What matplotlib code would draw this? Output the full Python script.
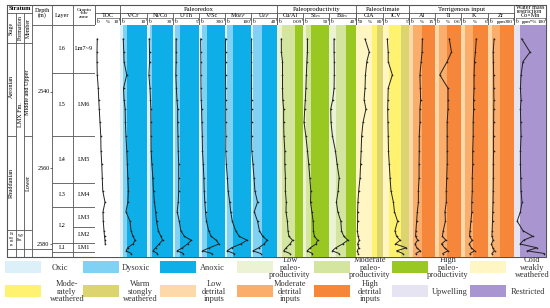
import numpy as np
import matplotlib
matplotlib.use('Agg')
import matplotlib.pyplot as plt

plt.rcParams['font.family'] = ['Liberation Serif', 'DejaVu Serif']
plt.rcParams['mathtext.fontset'] = 'stix'

# ---------------- data ----------------
depth = [2526, 2529.5, 2532, 2535.5, 2539, 2542, 2544.5, 2548, 2551.5, 2555.5, 2559, 2562.5,
         2566, 2569, 2571.5, 2574, 2576.5, 2578, 2579, 2580, 2581, 2581.8, 2582.5]
nan = np.nan
toc = [0.9, 0.8, 0.8, 0.9, 1.3, 1.5, 1.7, 2.0, 2.3, 2.4, 2.7, 2.9, 3.1, 4.0, 3.2, 3.3, 3.6, 3.8, 4.0, 4.1, nan, nan, nan]
v_cr = [1.2, 1.4, 1.5, 2.5, 1.3, 1.5, 1.9, 2.0, 2.2, 2.5, 2.7, 2.9, 3.1, 2.9, 2.2, 3.7, 4.1, 4.8, 5.6, 4.8, 2.8, 2.3, 4.2]
ni_co = [2.6, 2.9, 3.0, 2.2, 3.4, 4.0, 4.5, 4.6, 4.7, 4.8, 5.6, 6.7, 7.5, 8.6, 10, 11, 13, 16, 18, 14, 10, 7, 12]
u_th = [0.6, 0.6, 0.6, 0.55, 0.65, 0.75, 0.9, 0.9, 0.95, 1.0, 1.1, 1.1, 1.1, 1.0, 0.8, 1.2, 1.5, 2.2, 3.5, 2.8, 1.8, 0.8, 2.0]
v_sc = [19, 21, 22, 22, 23, 25, 30, 33, 37, 40, 49, 56, 60, 67, 75, 86, 112, 140, 200, 230, 120, 40, 150]
mo_ef = [2, 2, 2, 2, 2.5, 2.5, 3, 3, 3.5, 3, 5, 9, 12, 18, 22, 28, 41, 55, 85, 60, 25, 8, 35]
u_ef = [0.5, 0.5, 0.5, 0.6, 0.7, 0.8, 1, 1, 1, 1.2, 3, 4.6, 6, 10, 5, 10, 13, 18, 25, 20, 12, 3, 15]
cu_al = [0.015, 0.015, 0.019, 0.019, 0.019, 0.020, 0.023, 0.023, 0.024, 0.027, 0.027, 0.029, 0.029,
         0.032, 0.031, 0.036, 0.038, 0.041, 0.054, 0.045, 0.032, 0.023, 0.045]
si_ex = [8.6, 8.6, 7.5, 6.4, 5.5, 4.5, 3.3, 2.0, 5.4, 8.6, 11, 13, 15, 14.5, 17, 19.5, 20, 22, 28, 25, 14, 8, 18]
ba_ex = [7.5, 7.5, 7.8, 7.8, 7.5, 5.5, 2.5, 3, 5, 9.5, 12, 15, 13.5, 11, 13, 17.5, 18.5, 22, 28, 20, 10, 5, 15]
cia = [60, 64.7, 62, 60.5, 60, 59, 61, 57.8, 56.3, 55.7, 55.1, 54.5, 53, 52.1, 51.8, 51.8, 51.5, 52.4, 53.6, 51.8, 53, 51.5, 52.4]
icv = [0.83, 1.0, 1.0, 1.8, 1.0, 0.95, 0.9, 0.95, 1.0, 1.05, 1.2, 1.35, 1.54, 2.0, 2.2, 2.8, 2.3, 2.6, 3.3, 2.4, 4.5, 2.6, 3.8]
al = [7.7, 7.5, 7.0, 6.3, 6.5, 6.7, 6.3, 6.3, 5.9, 5.9, 5.8, 5.8, 5.4, 5.4, 4.8, 4.4, 4.0, 3.8, 5.0, 3.5, 4.5, 6.5, 4.0]
ti = [0.33, 0.38, 0.28, 0.11, 0.30, 0.30, 0.30, 0.28, 0.28, 0.28, 0.28, 0.27, 0.26, 0.26, 0.23, 0.24, 0.19, 0.17, 0.25, 0.15, 0.22, 0.30, 0.18]
k = [3.4, 3.2, 3.0, 2.9, 2.9, 2.8, 2.8, 2.7, 2.7, 2.6, 2.6, 2.5, 2.5, 2.4, 2.4, 2.2, 2.0, 1.9, 2.5, 1.8, 2.3, 3.0, 2.0]
zr = [70, 60, 62, 65, 66, 68, 66, 65, 64, 64, 62, 62, 60, 58, 55, 52, 48, 45, 60, 40, 55, 75, 45]
co_mn = [24, 50, 28, 22, 20, 22, 20, 21, 22, 20, 20, 21, 22, 25, 20, 10, 28, 59, 30, 19, 72, 41, 95]

# column titles and scales
col_titles = ['TOC', 'V/Cr', 'Ni/Co', 'U/Th', 'V/Sc', r'Mo$_{EF}$', r'U$_{EF}$', 'Cu/Al', r'Si$_{ex}$',
              r'Ba$_{ex}$', 'CIA', 'ICV', 'Al', 'Ti', 'K', 'Zr', 'Co×Mn']
col_lo = [0, 0, 0, 0, 0, 0, 0, 0, 0, 0, 50, 0, 0, 0, 0, 0, 0]
col_hi = [10, 10, 30, 5, 300, 100, 40, 0.09, 50, 40, 80, 5, 15, 0.6, 6, 300, 100]
col_lo_lbl = ['0'] * 10 + ['50'] + ['0'] * 6
col_hi_lbl = ['10', '10', '30', '5', '300', '100', '40', '0.09', '50', '40', '80', '5', '15', '0.6', '6', '300', '100']
col_unit = ['%', '', '', '', '', '', '', '', '', '', '%', '', '%', '%', '%', 'ppm', 'ppm*%']
series = [toc, v_cr, ni_co, u_th, v_sc, mo_ef, u_ef, cu_al, si_ex, ba_ex, cia, icv, al, ti, k, zr, co_mn]

groups = ['Paleoredox', 'Paleoproductivity', 'Paleoclimate', 'Terrigenous input', 'Water mass\nrestriction']

layers = ['L6', 'L5', 'L4', 'L3', 'L2', 'L1']
layer_tops = [2522.37, 2535.0, 2551.6, 2563.9, 2570.3, 2579.7]
layer_bots = [2535.0, 2551.6, 2563.9, 2570.3, 2579.7, 2582.1]
zones = ['Lm7~9', 'LM6', 'LM5', 'LM4', 'LM3', 'LM2', 'LM1']
zone_tops = [2522.37, 2535.0, 2551.6, 2563.9, 2570.3, 2575.5, 2579.7]
zone_bots = [2535.0, 2551.6, 2563.9, 2570.3, 2575.5, 2579.7, 2582.1]
depth_ticks = [2540, 2560, 2580]

legend_labels = ['Oxic', 'Dysoxic', 'Anoxic', 'Low\npaleo-\nproductivity', 'Moderate\npaleo-\nproductivity',
                 'High\npaleo-\nproductivity', 'Cold\nweakly\nweathered',
                 'Mode-\nrately\nweathered', 'Warm\nstongly\nweathered', 'Low\ndetrital\ninputs',
                 'Moderate\ndetrital\ninputs', 'High\ndetrital\ninputs', 'Upwelling', 'Restricted']

# ---------------- style ----------------
C = {'oxic': '#dcf0f9', 'dys': '#7fd2f3', 'anox': '#0eaee9',
     'lowp': '#ebf3d4', 'modp': '#d3e59e', 'highp': '#98c821',
     'cold': '#fff6c4', 'modw': '#fff270', 'warm': '#dcd46e',
     'lowd': '#fdd9aa', 'modd': '#fbad6c', 'highd': '#f6873a',
     'upw': '#e6e3f2', 'res': '#a995cf'}
legend_colors = [C['oxic'], C['dys'], C['anox'], C['lowp'], C['modp'], C['highp'], C['cold'],
                 C['modw'], C['warm'], C['lowd'], C['modd'], C['highd'], C['upw'], C['res']]
bands = [
    ([], ['white']),
    ([0.1, 0.27], [C['oxic'], C['dys'], C['anox']]),
    ([0.1, 0.19], [C['oxic'], C['dys'], C['anox']]),
    ([0.09, 0.25], [C['oxic'], C['dys'], C['anox']]),
    ([0.11, 0.30], [C['oxic'], C['dys'], C['anox']]),
    ([0.08, 0.31], [C['oxic'], C['dys'], C['anox']]),
    ([0.08, 0.42], [C['oxic'], C['dys'], C['anox']]),
    ([0.18, 0.68], [C['lowp'], C['modp'], C['highp']]),
    ([0.11, 0.29], [C['lowp'], C['modp'], C['highp']]),
    ([0.25, 0.64], [C['lowp'], C['modp'], C['highp']]),
    ([0.6, 0.76], [C['cold'], C['modw'], C['warm']]),
    ([0.23, 0.70], [C['cold'], C['modw'], C['warm']]),
    ([0.17, 0.50], [C['lowd'], C['modd'], C['highd']]),
    ([0.15, 0.46], [C['lowd'], C['modd'], C['highd']]),
    ([0.15, 0.46], [C['lowd'], C['modd'], C['highd']]),
    ([0.15, 0.46], [C['lowd'], C['modd'], C['highd']]),
    ([0.2], [C['upw'], C['res']]),
]
col_edges = [95, 120, 147, 173, 199, 225, 251, 277, 303, 329, 356, 383, 409, 435, 461, 488, 514, 546]
group_edges = [(120, 277), (277, 356), (356, 409), (409, 514), (514, 546)]

W, H = 550, 308
Y_TOP, Y_BOT = 25, 257
D_TOP, D_BOT = 2522.37, 2583.42
LC = '#555555'
LW = 0.6

fig = plt.figure(figsize=(W / 100, H / 100), dpi=100)
fr = fig.add_axes([0, 0, 1, 1])
fr.set_xlim(0, W); fr.set_ylim(H, 0); fr.axis('off')


def rect(x0, y0, x1, y1):
    return [x0 / W, 1 - y1 / H, (x1 - x0) / W, (y1 - y0) / H]


# ---------------- data columns ----------------
for i, vals in enumerate(series):
    x0, x1 = col_edges[i], col_edges[i + 1]
    ax = fig.add_axes(rect(x0, Y_TOP, x1, Y_BOT))
    lo, hi = col_lo[i], col_hi[i]
    ax.set_xlim(lo, hi)
    ax.set_ylim(D_BOT, D_TOP)
    ax.axis('off')
    th, cols = bands[i]
    edges = [lo] + [lo + t * (hi - lo) for t in th] + [hi]
    for j, c in enumerate(cols):
        ax.axvspan(edges[j], edges[j + 1], color=c, lw=0)
    ax.plot(vals, depth, color='#222222', lw=0.7, marker='o', ms=1.2, mfc='#222222', mec='none')
    xm = (x0 + x1) / 2
    fr.text(xm, 15.5, col_titles[i], ha='center', va='center', fontsize=4.4)
    fr.plot([x0 + 1.5, x1 - 1.5], [18.3, 18.3], color='#333333', lw=0.4)
    fr.plot([x0 + 1.5, x0 + 1.5], [18.3, 19.6], color='#333333', lw=0.4)
    fr.plot([x1 - 1.5, x1 - 1.5], [18.3, 19.6], color='#333333', lw=0.4)
    fr.text(x0 + 1.5, 21.6, col_lo_lbl[i], ha='left', va='center', fontsize=3.8)
    fr.text(x1 - 1.0, 21.6, col_hi_lbl[i], ha='right', va='center', fontsize=3.8)
    if col_unit[i]:
        fr.text(xm, 21.6, col_unit[i], ha='center', va='center', fontsize=3.6)

for x in col_edges:
    fr.plot([x, x], [13, Y_BOT], color=LC, lw=LW)
for (g0, g1), name in zip(group_edges, groups):
    fr.plot([g0, g0], [5, Y_BOT], color=LC, lw=LW)
    if '\n' in name:
        fr.text((g0 + g1) / 2, 9.5, name, ha='center', va='center', fontsize=4.4, linespacing=0.95)
    else:
        fr.text((g0 + g1) / 2, 9.2, name, ha='center', va='center', fontsize=4.8)
fr.plot([95, 514], [13, 13], color=LC, lw=LW)
fr.plot([32, 546], [Y_TOP, Y_TOP], color=LC, lw=LW)

# ---------------- left stratigraphy ----------------
sx = fig.add_axes(rect(7, Y_TOP, 95, Y_BOT))
sx.set_xlim(7, 95); sx.set_ylim(D_BOT, D_TOP); sx.axis('off')
fr.plot([7, 32], [13, 13], color=LC, lw=LW)
fr.plot([7, 32], [43, 43], color=LC, lw=LW)
for x in [7, 32, 52, 73, 95]:
    fr.plot([x, x], [5, Y_BOT], color=LC, lw=LW)
for x in [16, 24]:
    fr.plot([x, x], [13, Y_BOT], color=LC, lw=LW)
fr.text(19.5, 9, 'Stratum', ha='center', va='center', fontsize=4.6, fontweight='bold')
for xc, t in [(11.5, 'Stage'), (20, 'Formation'), (28, 'Member')]:
    fr.text(xc, 28, t, ha='center', va='center', rotation=90, fontsize=4.2)
fr.text(42.5, 13, 'Depth\n(m)', ha='center', va='center', fontsize=4.4, linespacing=0.95)
fr.text(62.5, 15, 'Layer', ha='center', va='center', fontsize=4.4)
fr.text(84, 13.5, 'Grapto\n-lite\nzone', ha='center', va='center', fontsize=3.9, linespacing=0.95)

sx.hlines([2551.6], 7, 16, color=LC, lw=LW)
sx.hlines([2551.6], 24, 32, color=LC, lw=LW)
sx.hlines([2576.3, 2581.3], 7, 32, color=LC, lw=LW)
sx.hlines([2581.3], 32, 52, color=LC, lw=LW)
sx.text(11.5, 2538.5, 'Aeronian', rotation=90, ha='center', va='center', fontsize=4.4)
sx.text(11.5, 2564, 'Rhuddanian', rotation=90, ha='center', va='center', fontsize=4.4)
sx.text(11.6, 2578.8, 'Hi\nrna\nnti\nan', ha='center', va='center', fontsize=2.6, linespacing=0.9)
sx.text(20, 2546, 'LMX Fm.', rotation=90, ha='center', va='center', fontsize=4.4)
sx.text(20.2, 2578.5, 'WF\nFm.', ha='center', va='center', fontsize=2.6, linespacing=0.9)
sx.text(28, 2540, 'Middle and Upper', rotation=90, ha='center', va='center', fontsize=4.4)
sx.text(28, 2564, 'Lower', rotation=90, ha='center', va='center', fontsize=4.4)

for t, a, b in zip(layers, layer_tops, layer_bots):
    sx.hlines([b], 52, 73, color=LC, lw=LW)
    sx.text(62.5, (a + b) / 2, t, ha='center', va='center', fontsize=4.4)
for t, a, b in zip(zones, zone_tops, zone_bots):
    sx.hlines([b], 73, 95, color=LC, lw=LW)
    sx.text(84, (a + b) / 2, t, ha='center', va='center', fontsize=4.4)
for dt in depth_ticks:
    sx.text(49.5, dt, str(dt), ha='right', va='center', fontsize=4.4)
    sx.hlines([dt], 49.7, 52, color='#333333', lw=0.5)

fr.plot([7, 546, 546, 7, 7], [5, 5, Y_BOT, Y_BOT, 5], color=LC, lw=0.8)

# ---------------- legend ----------------
starts = [5, 83, 160, 237, 314, 392, 470]
text_off = [[55, 53, 52, 53, 56, 56, 62], [62, 57, 54, 53, 56, 58, 58]]
for r in range(2):
    yb = 261 if r == 0 else 285
    for j in range(7):
        idx = r * 7 + j
        x0 = starts[j]
        fr.add_patch(plt.Rectangle((x0, yb), 36, 12, facecolor=legend_colors[idx], edgecolor='none'))
        fr.text(x0 + text_off[r][j], yb + 6.5, legend_labels[idx], ha='center', va='center', fontsize=6.0,
                linespacing=0.9, color='#333333')

fig.savefig('out.png', dpi=100)
